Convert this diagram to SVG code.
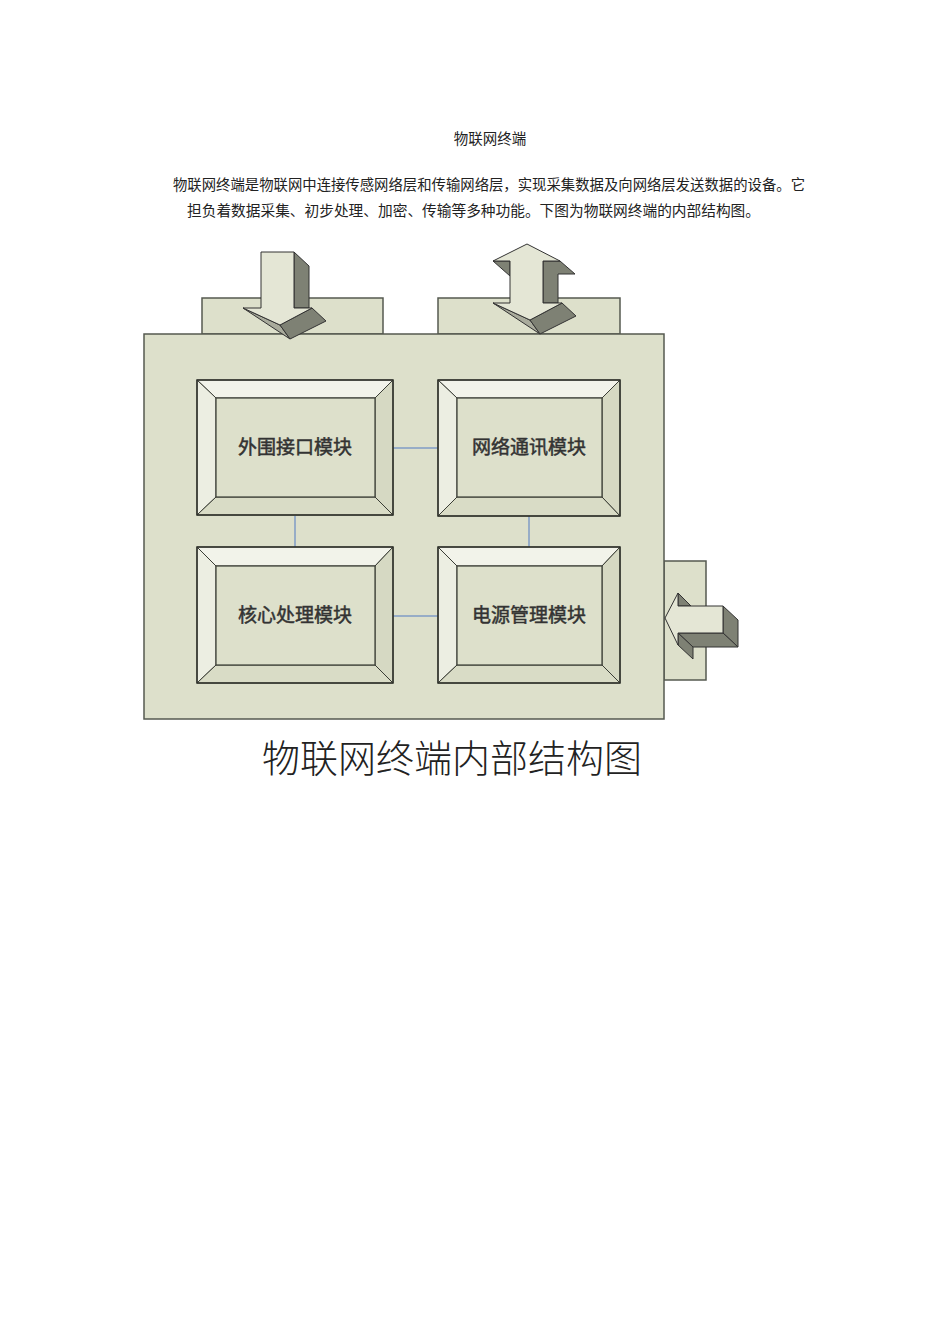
<svg xmlns="http://www.w3.org/2000/svg" width="950" height="1344" viewBox="0 0 950 1344">
<style>
.bg{fill:#ffffff}
.panel{fill:#dde0cb;stroke:#555a50;stroke-width:1.5}
.bt{fill:#f2f3ea;stroke:#3a3d35;stroke-width:1}
.bl{fill:#eceee2;stroke:#3a3d35;stroke-width:1}
.br{fill:#d6d9c3;stroke:#3a3d35;stroke-width:1}
.bb{fill:#d9dcc6;stroke:#3a3d35;stroke-width:1}
.inner{fill:#dde0cb;stroke:#3a3d35;stroke-width:1.2}
.outer{fill:none;stroke:#2f322b;stroke-width:1.5}
.lbl{font-family:"Liberation Serif","Noto Sans CJK SC",serif;font-size:19px;font-weight:normal;fill:#333;stroke:#333;stroke-width:0.5;text-anchor:middle}
.conn{stroke:#7f9cc6;stroke-width:1.5;fill:none}
.af{fill:#e4e6d5;stroke:#333;stroke-width:1;stroke-linejoin:round}
.ad{fill:#7e8174;stroke:#333;stroke-width:1;stroke-linejoin:round}
.am{fill:#a9ab9c;stroke:#333;stroke-width:1;stroke-linejoin:round}
.txt{font-family:"Liberation Serif","Noto Sans CJK SC",serif;font-size:14.5px;fill:#222}
.cap{font-family:"Liberation Sans","Noto Sans CJK SC",sans-serif;font-size:38px;fill:#222;font-weight:300}
</style>
<rect class="bg" x="0" y="0" width="950" height="1344"/>

<g id="header">
<text class="txt" x="490" y="144" text-anchor="middle" font-size="14">物联网终端</text>
<text class="txt" x="173" y="190" textLength="632" lengthAdjust="spacingAndGlyphs">物联网终端是物联网中连接传感网络层和传输网络层，实现采集数据及向网络层发送数据的设备。它</text>
<text class="txt" x="187" y="216" textLength="573" lengthAdjust="spacingAndGlyphs">担负着数据采集、初步处理、加密、传输等多种功能。下图为物联网终端的内部结构图。</text>
</g>

<g id="tabs">
<rect class="panel" x="202" y="298" width="181" height="36"/>
<rect class="panel" x="438" y="298" width="182" height="36"/>
<rect class="panel" x="664" y="561" width="42" height="119"/>
</g>

<g id="terminal">
<rect class="panel" x="144" y="334" width="520" height="385"/>
</g>

<g id="connectors">
<line class="conn" x1="393" y1="448" x2="438" y2="448"/>
<line class="conn" x1="393" y1="616" x2="438" y2="616"/>
<line class="conn" x1="295" y1="516" x2="295" y2="547"/>
<line class="conn" x1="529" y1="516" x2="529" y2="547"/>
</g>

<g id="m1">
<polygon class="bt" points="197,380 393,380 375,398 216,398"/>
<polygon class="bl" points="197,380 216,398 216,497 197,515"/>
<polygon class="br" points="393,380 393,515 375,497 375,398"/>
<polygon class="bb" points="197,515 393,515 375,497 216,497"/>
<rect class="inner" x="216" y="398" width="159" height="99"/>
<rect class="outer" x="197" y="380" width="196" height="135"/>
<text class="lbl" x="295" y="454">外围接口模块</text>
</g>

<g id="m2">
<polygon class="bt" points="438,380 620,380 602,398 457,398"/>
<polygon class="bl" points="438,380 457,398 457,497 438,516"/>
<polygon class="br" points="620,380 620,516 602,497 602,398"/>
<polygon class="bb" points="438,516 620,516 602,497 457,497"/>
<rect class="inner" x="457" y="398" width="145" height="99"/>
<rect class="outer" x="438" y="380" width="182" height="136"/>
<text class="lbl" x="529" y="454">网络通讯模块</text>
</g>

<g id="m3">
<polygon class="bt" points="197,547 393,547 375,566 216,566"/>
<polygon class="bl" points="197,547 216,566 216,665 197,683"/>
<polygon class="br" points="393,547 393,683 375,665 375,566"/>
<polygon class="bb" points="197,683 393,683 375,665 216,665"/>
<rect class="inner" x="216" y="566" width="159" height="99"/>
<rect class="outer" x="197" y="547" width="196" height="136"/>
<text class="lbl" x="295" y="622">核心处理模块</text>
</g>

<g id="m4">
<polygon class="bt" points="438,547 620,547 602,566 457,566"/>
<polygon class="bl" points="438,547 457,566 457,665 438,683"/>
<polygon class="br" points="620,547 620,683 602,665 602,566"/>
<polygon class="bb" points="438,683 620,683 602,665 457,665"/>
<rect class="inner" x="457" y="566" width="145" height="99"/>
<rect class="outer" x="438" y="547" width="182" height="136"/>
<text class="lbl" x="529" y="622">电源管理模块</text>
</g>

<g id="arrow-in">
<polygon class="ad" points="294,252 309,266 309,308 294,308"/>
<polygon class="am" points="243,308 280,325 290,339"/>
<polygon class="ad" points="280,325 312,308 326,321 290,339"/>
<polygon class="af" points="261,252 294,252 294,308 312,308 280,325 243,308 261,308"/>
</g>

<g id="arrow-both">
<polygon class="ad" points="493,261 510,261 510,276"/>
<polygon class="ad" points="543,261 560,261 575,274 558,274 558,303 543,303"/>
<polygon class="am" points="493,303 530,320 540,334"/>
<polygon class="ad" points="530,320 562,303 576,316 540,334"/>
<polygon class="af" points="527,244 560,261 543,261 543,303 562,303 530,320 493,303 510,303 510,261 493,261"/>
</g>

<g id="arrow-power">
<polygon class="ad" points="678,593 691,606 678,606"/>
<polygon class="ad" points="723,606 738,620 738,647 723,633"/>
<polygon class="ad" points="678,633 723,633 738,647 693,647"/>
<polygon class="ad" points="678,633 693,647 693,659 678,645"/>
<polygon class="af" points="665,618 678,593 678,606 723,606 723,633 678,633 678,645"/>
</g>

<g id="caption">
<text class="cap" x="452" y="772" text-anchor="middle" textLength="380" lengthAdjust="spacingAndGlyphs">物联网终端内部结构图</text>
</g>
</svg>
